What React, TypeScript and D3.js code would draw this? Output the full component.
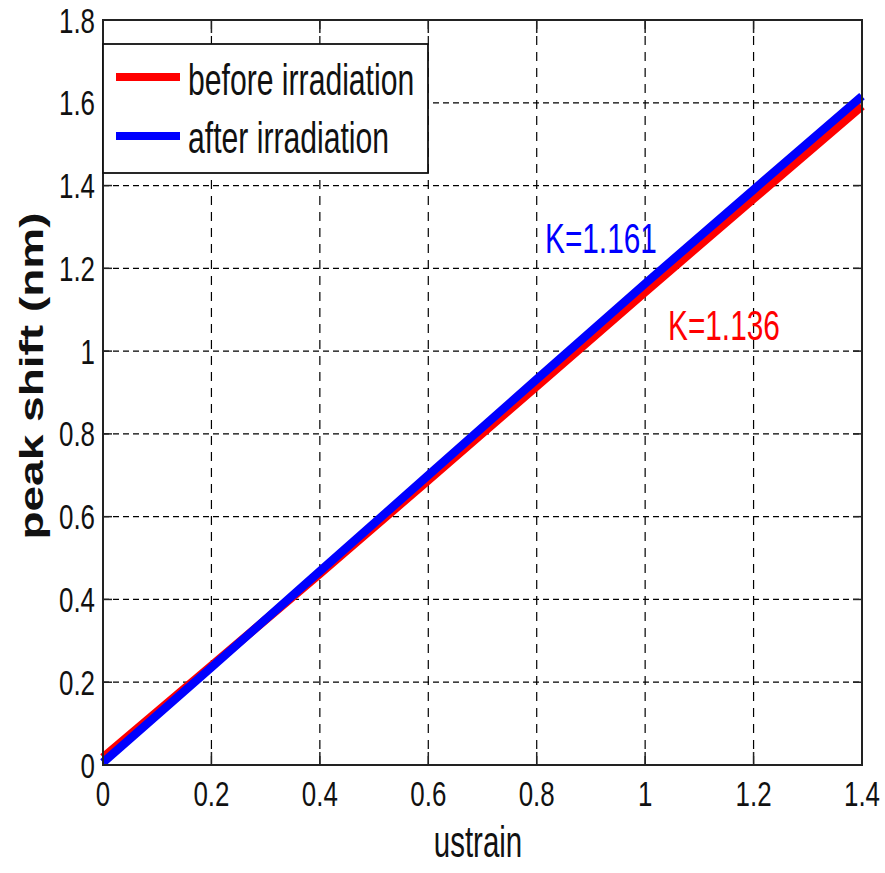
import React from "react";
import * as d3 from "d3";

const strain = [0, 0.2, 0.4, 0.6, 0.8, 1.0, 1.2, 1.4];
const beforeShift = [0.018, 0.24, 0.462, 0.688, 0.915, 1.143, 1.368, 1.592];
const afterShift = [0.006, 0.236, 0.468, 0.7, 0.932, 1.163, 1.39, 1.616];
const xTicks = [0, 0.2, 0.4, 0.6, 0.8, 1, 1.2, 1.4];
const yTicks = [0, 0.2, 0.4, 0.6, 0.8, 1, 1.2, 1.4, 1.6, 1.8];
const seriesNames = ["before irradiation", "after irradiation"];
const seriesColors = ["#ff0000", "#0000ff"];
const kLabels = ["K=1.136", "K=1.161"];

const W = 885, H = 873;
const L = 103, R = 862, T = 20, B = 765;
const FONT = "'Liberation Sans', Arial, sans-serif";
const SX = 0.72;

export default function App() {
  const x = d3.scaleLinear().domain([0, 1.4]).range([L, R]);
  const y = d3.scaleLinear().domain([0, 1.8]).range([B, T]);
  const line = d3
    .line<number>()
    .x((_, i) => x(strain[i]))
    .y((d) => y(d));
  const fmt = (v: number) => (v === 0 ? "0" : d3.format("~g")(v));

  return (
    <svg
      width={W}
      height={H}
      style={{ position: "absolute", left: 0, top: 0, background: "#fff" }}
      fontFamily={FONT}
    >
      <rect x={0} y={0} width={W} height={H} fill="#fff" />
      {/* grid */}
      {xTicks.slice(1, -1).map((t) => (
        <line key={"gx" + t} x1={x(t)} x2={x(t)} y1={T} y2={B} stroke="#000" strokeWidth={1.2} strokeDasharray="9,7" />
      ))}
      {yTicks.slice(1, -1).map((t) => (
        <line key={"gy" + t} x1={L} x2={R} y1={y(t)} y2={y(t)} stroke="#000" strokeWidth={1.2} strokeDasharray="6,4" />
      ))}
      {/* ticks */}
      {xTicks.map((t) => (
        <g key={"tx" + t}>
          <line x1={x(t)} x2={x(t)} y1={B} y2={B - 13} stroke="#222" strokeWidth={1.5} />
          <line x1={x(t)} x2={x(t)} y1={T} y2={T + 13} stroke="#222" strokeWidth={1.5} />
          <text
            transform={`translate(${x(t)},${806}) scale(${SX},1)`}
            textAnchor="middle"
            fontSize={36}
            fill="#111"
          >
            {fmt(t)}
          </text>
        </g>
      ))}
      {yTicks.map((t) => (
        <g key={"ty" + t}>
          <line x1={L} x2={L + 9} y1={y(t)} y2={y(t)} stroke="#222" strokeWidth={1.5} />
          <line x1={R} x2={R - 9} y1={y(t)} y2={y(t)} stroke="#222" strokeWidth={1.5} />
          <text
            transform={`translate(95,${y(t) + 12.5}) scale(${SX},1)`}
            textAnchor="end"
            fontSize={36}
            fill="#111"
          >
            {fmt(t)}
          </text>
        </g>
      ))}
      {/* series */}
      <path d={line(beforeShift) || ""} fill="none" stroke={seriesColors[0]} strokeWidth={8.5} />
      <path d={line(afterShift) || ""} fill="none" stroke={seriesColors[1]} strokeWidth={8.5} />
      {/* box */}
      <rect x={L} y={T} width={R - L} height={B - T} fill="none" stroke="#222" strokeWidth={2} />
      {/* legend */}
      <rect x={103} y={44} width={325} height={129} fill="#fff" stroke="#111" strokeWidth={1.8} />
      {seriesNames.map((n, i) => (
        <g key={n}>
          <line x1={116} x2={180} y1={77 + i * 59} y2={77 + i * 59} stroke={seriesColors[i]} strokeWidth={8} />
          <text transform={`translate(188,${95 + i * 58}) scale(0.67,1)`} fontSize={45} fill="#111">
            {n}
          </text>
        </g>
      ))}
      {/* annotations */}
      <text transform={`translate(545,253) scale(0.71,1)`} fontSize={42} fill={seriesColors[1]}>
        {kLabels[1]}
      </text>
      <text transform={`translate(668,340) scale(0.71,1)`} fontSize={42} fill={seriesColors[0]}>
        {kLabels[0]}
      </text>
      {/* axis labels */}
      <text transform={`translate(478,857) scale(0.67,1)`} textAnchor="middle" fontSize={44} fill="#111">
        ustrain
      </text>
      <text
        transform={`translate(43,376) scale(${SX},1) rotate(-90)`}
        textAnchor="middle"
        fontSize={46}
        fontWeight="bold"
        fill="#111"
      >
        peak shift (nm)
      </text>
    </svg>
  );
}
